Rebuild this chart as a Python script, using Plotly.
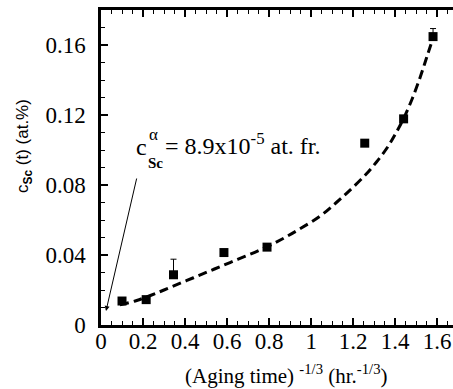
import plotly.graph_objects as go

# measured points
x_pts = [0.10, 0.215, 0.345, 0.585, 0.79, 1.255, 1.44, 1.58]
y_pts = [0.0137, 0.0145, 0.0287, 0.0414, 0.0445, 0.1039, 0.1178, 0.1648]
err_up = [0, 0, 0.0089, 0, 0, 0, 0, 0.0046]
err_dn = [0, 0, 0, 0, 0, 0, 0, 0]

# dashed model curve
x_fit = [0.09, 0.17, 0.28, 0.34, 0.44, 0.54, 0.65, 0.76, 0.86, 0.94, 1.04,
         1.12, 1.18, 1.26, 1.31, 1.36, 1.40, 1.44, 1.48, 1.52, 1.55, 1.58]
y_fit = [0.0115, 0.0140, 0.0190, 0.0220, 0.0270, 0.0320, 0.0375, 0.0430,
         0.0490, 0.0545, 0.0620, 0.0700, 0.0765, 0.0860, 0.0930, 0.1010,
         0.1090, 0.1180, 0.1290, 0.1420, 0.1530, 0.1640]

x_ticks = [0, 0.2, 0.4, 0.6, 0.8, 1, 1.2, 1.4, 1.6]
x_tick_text = ["0", "0.2", "0.4", "0.6", "0.8", "1", "1.2", "1.4", "1.6"]
y_ticks = [0, 0.04, 0.08, 0.12, 0.16]
y_tick_text = ["0", "0.04", "0.08", "0.12", "0.16"]

SERIF = "Liberation Serif"
SANS = "Liberation Sans"

W, H = 453, 389
L, R, T, B = 101, 0, 10, 64
XR = [0, 1.675]
YR = [0, 0.18]

def dx(px):
    return XR[0] + (px - L) / (W - L - R) * (XR[1] - XR[0])

def dy(py):
    return YR[0] + (H - B - py) / (H - T - B) * (YR[1] - YR[0])

fig = go.Figure()
fig.add_trace(go.Scatter(
    x=x_fit, y=y_fit, mode="lines", line=dict(color="black", width=3, dash="9px,5px", shape="spline"),
    hoverinfo="skip", showlegend=False))
fig.add_trace(go.Scatter(
    x=x_pts, y=y_pts, mode="markers",
    marker=dict(symbol="square", size=9, color="black"),
    error_y=dict(type="data", array=err_up, arrayminus=err_dn, symmetric=False,
                 color="black", thickness=1, width=3),
    showlegend=False))

ann = []
# arrow
ann.append(dict(x=dx(106), y=dy(311), xref="x", yref="y", text="", showarrow=True,
                ax=31, ay=-134, arrowhead=2, arrowsize=1, arrowwidth=1, arrowcolor="black", standoff=0))
# label pieces
ann.append(dict(x=dx(134), y=dy(147), xref="x", yref="y", text="c", showarrow=False,
                xanchor="left", yanchor="middle", font=dict(family=SERIF, size=24, color="black")))
ann.append(dict(x=dx(147), y=dy(134), xref="x", yref="y", text="α", showarrow=False,
                xanchor="left", yanchor="middle", font=dict(family=SERIF, size=17, color="black")))
ann.append(dict(x=dx(146), y=dy(163), xref="x", yref="y", text="<b>Sc</b>", showarrow=False,
                xanchor="left", yanchor="middle", font=dict(family=SERIF, size=15, color="black")))
ann.append(dict(x=dx(163), y=dy(144), xref="x", yref="y",
                text="= 8.9x10<sup>-5</sup> at. fr.", showarrow=False,
                xanchor="left", yanchor="middle", font=dict(family=SERIF, size=24, color="black")))
# axis titles
ann.append(dict(x=(286 - L) / (W - L - R), y=(H - B - 375) / (H - T - B), xref="paper", yref="paper",
                text="(Aging time) <sup>-1/3</sup> (hr.<sup>-1/3</sup>)", showarrow=False,
                xanchor="center", yanchor="middle", font=dict(family=SERIF, size=21, color="black")))
ann.append(dict(x=(24 - L) / (W - L - R), y=(H - B - 146) / (H - T - B), xref="paper", yref="paper",
                text="c<sub><b>Sc</b></sub> (t) (at.%)", textangle=-90, showarrow=False,
                xanchor="center", yanchor="middle", font=dict(family=SANS, size=17, color="black")))

fig.update_layout(
    width=W, height=H,
    margin=dict(l=L, r=R, t=T, b=B, pad=0),
    plot_bgcolor="white", paper_bgcolor="white",
    annotations=ann,
    xaxis=dict(range=XR, tickvals=x_ticks, ticktext=x_tick_text, showgrid=False, zeroline=False,
               showline=True, linecolor="black", linewidth=2.5, mirror="ticks",
               ticks="inside", ticklen=7, tickwidth=1.5, tickcolor="black",
               minor=dict(dtick=0.05, ticks="inside", ticklen=4, tickwidth=1, tickcolor="black"),
               tickfont=dict(family=SERIF, size=23, color="black"), ticklabelstandoff=-6),
    yaxis=dict(range=YR, tickvals=y_ticks, ticktext=y_tick_text, showgrid=False, zeroline=False,
               showline=True, linecolor="black", linewidth=2.5,
               ticks="inside", ticklen=7, tickwidth=1.5, tickcolor="black",
               minor=dict(dtick=0.01, ticks="inside", ticklen=4, tickwidth=1, tickcolor="black"),
               tickfont=dict(family=SERIF, size=23, color="black"), ticklabelstandoff=8),
)
fig.write_html("out.html", config={"displayModeBar": False},
               post_script="document.body.style.margin='0px';document.body.style.overflow='hidden';")
